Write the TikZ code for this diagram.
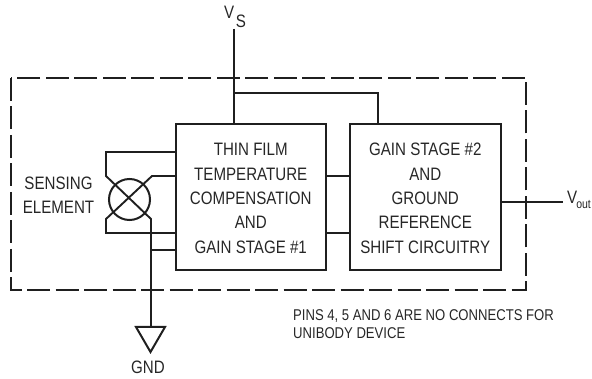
\documentclass[tikz,border=0pt]{standalone}
\usepackage{fontspec}
\setmainfont[FakeStretch=0.84]{Liberation Sans}
\usetikzlibrary{calc}
\newcommand{\firstline}{\rule{0pt}{15pt}}
\tikzset{
  x=1pt,y=-1pt,
  wire/.style={draw=black!88,line width=1.9pt,line join=miter},
  thinwire/.style={draw=black!88,line width=1.7pt},
  blockbox/.style={draw=black!88,line width=2pt,inner sep=0pt,outer sep=0pt,align=center,anchor=north west,text=black!85,font=\fontsize{18}{24.3}\selectfont},
  boundary/.style={draw=black!88,line width=2pt,dash pattern=on 23pt off 5.5pt},
  lbl/.style={text=black!85,inner sep=0pt,align=center,font=\fontsize{18}{24.3}\selectfont},
  note/.style={text=black!85,inner sep=0pt,align=left,anchor=north west,font=\fontsize{15.6}{18}\selectfont},
  sensor/.style={circle,draw=black!88,line width=2pt,minimum size=41pt,inner sep=0pt,outer sep=0pt},
  gndsym/.style={draw=black!88,line width=2pt,line join=miter,fill=white},
}
\begin{document}
\begin{tikzpicture}
\useasboundingbox (0,0) rectangle (592,379);
\coordinate (dnw) at (11,78);
\coordinate (dse) at (526,290);
\draw[boundary] (dnw) rectangle (dse);
\node[blockbox,minimum width=150.5pt,minimum height=146pt] (one) at (175.5,124) {\firstline THIN FILM\\TEMPERATURE\\COMPENSATION\\AND\\GAIN STAGE \#1};
\node[blockbox,minimum width=151.5pt,minimum height=146pt] (two) at (349.5,124) {\firstline GAIN STAGE \#2\\AND\\GROUND\\REFERENCE\\SHIFT CIRCUITRY};
\node[sensor] (sen) at (129.5,199.5) {};
\node[lbl] (senlbl) at (58.5,195.5) {SENSING\\ELEMENT};
% supply
\node[lbl,anchor=base west] (vs) at (224,19) {V\kern1.5pt\raisebox{-8.5pt}{S}};
\coordinate (vstop) at (234,29);
\coordinate (vsjoin) at (234,93);
\coordinate (vsright) at (378,93);
\draw[wire] (vstop) -- (vstop |- one.north);
\draw[thinwire] (vsjoin) -- (vsright) -- (vsright |- two.north);
% between blocks
\coordinate (m1) at (338,176);
\coordinate (m2) at (338,233);
\draw[wire] (one.east |- m1) -- (two.west |- m1);
\draw[wire] (one.east |- m2) -- (two.west |- m2);
% output
\coordinate (voutend) at (563,202);
\node[lbl,anchor=base west] (vout) at (567,204) {V\kern-1pt\raisebox{-5pt}{\fontsize{12.5}{12.5}\selectfont out}};
\draw[wire] (two.east |- voutend) -- (voutend);
% sensing element bridge
\coordinate (a1) at (106,152);
\coordinate (a2) at (106,176);
\coordinate (b1) at (152,176);
\coordinate (c1) at (106,219);
\coordinate (c2) at (106,233);
\coordinate (d1) at (151,219);
\coordinate (t1) at (151,250);
\coordinate (g0) at (151,327);
\draw[wire] (one.west |- a1) -- (a1) -- (a2) -- (d1) -- (g0);
\draw[wire] (one.west |- b1) -- (b1) -- (c1) -- (c2) -- (one.west |- c2);
\draw[wire] (t1) -- (one.west |- t1);
% ground
\coordinate (g1) at (136,327);
\coordinate (g2) at (165,327);
\coordinate (g3) at (150.5,352);
\draw[gndsym] (g1) -- (g2) -- (g3) -- cycle;
\node[lbl] (gnd) at (148,367) {GND};
\node[note] (nt) at (293,309) {PINS 4, 5 AND 6 ARE NO CONNECTS FOR\\UNIBODY DEVICE};
\end{tikzpicture}
\end{document}
